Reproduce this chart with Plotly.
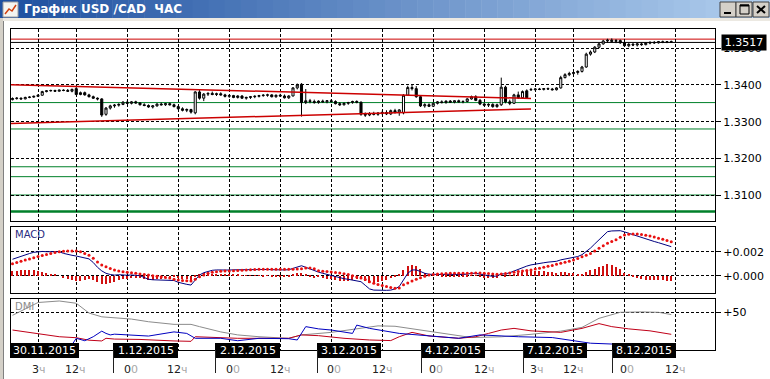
import plotly.graph_objects as go

W, H = 770, 379


def PX(x):
    return x / W


def PY(y):
    return 1 - y / H


# ---------------- DATA ----------------
PRICE_BASE = 1.3
PIP = 0.0001

OPEN_PIPS = [
    360, 363, 364, 362, 366, 367, 369, 372, 382, 384,
    385, 383, 386, 385, 383, 390, 374, 379, 373, 368,
    364, 362, 320, 337, 343, 345, 347, 353, 350, 354,
    351, 346, 344, 340, 343, 348, 346, 349, 346, 341,
    335, 331, 333, 324, 381, 364, 375, 377, 374, 376,
    373, 369, 371, 366, 370, 364, 366, 368, 369, 371,
    372, 373, 368, 372, 370, 365, 370, 392, 402, 352,
    357, 355, 352, 356, 354, 357, 355, 349, 346, 350,
    352, 355, 353, 320, 318, 322, 320, 323, 325, 321,
    330, 326, 324, 372, 393, 390, 368, 343, 346, 342,
    350, 354, 352, 356, 353, 357, 354, 355, 362, 368,
    358, 348, 345, 347, 341, 346, 394, 354, 350, 373,
    365, 384, 388, 387, 389, 388, 390, 389, 387, 392,
    420, 428, 431, 434, 437, 449, 484, 490, 503, 512,
    520, 522, 519, 521, 515, 507, 511, 509, 512, 510,
    514, 516, 515, 518, 516, 518,
]
HIGH_PIPS = [
    366, 367, 366, 368, 369, 371, 374, 384, 386, 387,
    387, 387, 388, 389, 390, 395, 382, 382, 376, 371,
    366, 364, 340, 346, 348, 350, 356, 357, 356, 357,
    353, 350, 347, 345, 350, 352, 351, 352, 349, 344,
    339, 336, 335, 383, 386, 378, 380, 382, 379, 380,
    376, 374, 373, 372, 372, 368, 370, 372, 373, 375,
    376, 375, 374, 376, 374, 372, 394, 404, 405, 389,
    362, 360, 358, 360, 359, 361, 358, 353, 352, 354,
    357, 358, 355, 325, 326, 327, 326, 330, 331, 333,
    335, 334, 375, 398, 400, 397, 370, 350, 350, 352,
    356, 358, 358, 359, 358, 360, 358, 364, 371, 372,
    362, 352, 350, 350, 349, 420, 398, 360, 376, 382,
    385, 388, 392, 391, 392, 391, 393, 392, 394, 425,
    432, 436, 438, 440, 452, 488, 494, 506, 515, 523,
    526, 527, 525, 524, 519, 514, 515, 514, 516, 516,
    519, 520, 520, 521, 520, 521,
]
LOW_PIPS = [
    358, 360, 360, 361, 364, 365, 367, 371, 380, 382,
    382, 382, 383, 381, 380, 372, 372, 371, 366, 362,
    358, 313, 316, 333, 338, 341, 345, 348, 347, 349,
    344, 342, 338, 336, 341, 344, 343, 344, 339, 333,
    328, 326, 322, 320, 360, 356, 370, 372, 370, 371,
    366, 365, 364, 363, 362, 360, 362, 364, 366, 368,
    368, 366, 365, 368, 363, 362, 369, 388, 314, 348,
    350, 349, 349, 352, 350, 352, 347, 343, 344, 346,
    349, 350, 316, 313, 315, 317, 316, 318, 318, 318,
    322, 316, 320, 370, 385, 365, 340, 338, 340, 340,
    347, 350, 349, 351, 350, 352, 350, 353, 360, 356,
    345, 342, 340, 338, 338, 343, 350, 345, 348, 362,
    363, 362, 384, 385, 386, 385, 387, 385, 385, 390,
    418, 424, 426, 428, 434, 447, 480, 487, 500, 510,
    515, 516, 514, 512, 504, 503, 506, 505, 507, 508,
    511, 512, 513, 514, 514, 515,
]
CLOSE_PIPS = [
    363, 364, 362, 366, 367, 369, 372, 382, 384, 385,
    383, 386, 385, 383, 388, 374, 379, 373, 368, 364,
    362, 318, 337, 343, 345, 347, 353, 350, 354, 351,
    346, 344, 340, 343, 348, 346, 349, 346, 341, 335,
    331, 333, 326, 381, 364, 375, 377, 374, 376, 373,
    369, 371, 366, 370, 364, 366, 368, 369, 371, 372,
    373, 368, 372, 370, 365, 370, 392, 400, 352, 357,
    355, 352, 356, 354, 357, 355, 349, 346, 350, 352,
    355, 353, 320, 318, 322, 320, 323, 325, 321, 330,
    326, 332, 372, 393, 390, 368, 343, 346, 342, 350,
    354, 352, 356, 353, 357, 354, 355, 362, 368, 358,
    348, 345, 347, 341, 346, 394, 354, 350, 373, 365,
    382, 365, 387, 389, 388, 390, 389, 387, 392, 420,
    428, 431, 434, 437, 449, 484, 490, 503, 512, 520,
    522, 519, 521, 515, 507, 511, 509, 512, 510, 514,
    516, 515, 518, 516, 518, 517,
]

# horizontal levels on the price chart
GREEN_LEVELS = [1.3352, 1.3280, 1.3177, 1.3150, 1.3100]
GREEN_LEVEL_THICK = 1.3055
RED_LEVEL = 1.3525
LAST_PRICE = 1.3516
LAST_PRICE_LABEL = "1.3517"

# converging red trend lines (bar index, price)
TREND_BARS = [-0.35, 122]
UPPER_TREND = [1.34008, 1.33632]
LOWER_TREND = [1.32951, 1.33346]

PRICE_TICKS = [1.31, 1.32, 1.33, 1.34, 1.35]
PRICE_TICK_TEXT = ["1.3100", "1.3200", "1.3300", "1.3400", "1.3500"]

# MACD in units of 0.0001
MACD_E4 = [
    13.7, 15, 16.5, 17.5, 18.5, 19.5, 20, 20.2, 20, 20.1,
    20, 20, 18.6, 17.5, 17, 16.4, 15.5, 14.8, 14, 11,
    7, 4, 2, 1, 0.5, 0.8, 0.5, 0.4, 0.6, 0.3,
    0, -1.5, -3, -3.4, -3.6, -3.5, -3.6, -3.8, -4, -5.5,
    -6.5, -7.2, -7.8, -4, 0.6, 2.5, 3.8, 4.5, 4.8, 4.6,
    4.5, 4.7, 4.9, 5, 4.8, 4.6, 4.8, 5, 5.1, 5,
    5.2, 5, 4.8, 4.9, 4.8, 5, 6, 7.5, 8.3, 7,
    5.5, 4, 3, 2, 1, 0, -1, -2, -2.5, -3,
    -3.5, -4, -5, -8, -11, -12, -12.2, -12.3, -12.2, -12,
    -11, -9, -3, 2, 4.8, 4.8, 3.5, 2, 1.2, 1,
    1.2, 1, 1.1, 1, 1.2, 1.1, 1, 1.3, 2, 2,
    1.2, 0.5, 0, -0.5, -0.3, 1.5, 1.5, 2.5, 4, 5.5,
    7, 8, 9, 9.8, 10.3, 10.8, 11.3, 11.6, 12, 13.2,
    14, 14.5, 15, 16, 17.5, 20, 23, 26.5, 30, 33.5,
    36.7, 37.3, 37.5, 37.5, 36.5, 35.3, 34, 32.8, 31.5, 30.3,
    29.3, 28.5, 27.5, 26.5, 25.3, 24.2,
]
SIGNAL_E4 = [
    10, 11, 12, 13, 14, 15, 16, 16.8, 17.6, 18.5,
    19.3, 20, 20.4, 20.6, 20.6, 20.5, 20, 18.5, 17, 14.5,
    11.5, 9, 7.5, 6, 4.8, 4, 3.3, 2.8, 2.4, 2,
    1.5, 1, 0.5, 0, -0.5, -0.8, -1.4, -2, -3, -3.5,
    -4, -4.2, -4.4, -3, -0.8, 0.5, 2, 2.8, 3.3, 3.7,
    3.9, 4, 4.2, 4.4, 4.6, 4.8, 5, 5.1, 5.3, 5.3,
    5.3, 5.3, 5.3, 5.3, 5.3, 5.3, 5.4, 5.5, 5.8, 6.4,
    6.5, 5.8, 4.2, 3.8, 3.4, 3, 2.6, 2.2, 1.7, 1,
    0, -1, -2, -3.2, -5, -6.3, -7.3, -8.2, -9, -9.8,
    -10.5, -10.2, -7.5, -6, -4.5, -3, -1.8, -0.5, 0.6, 1,
    1.4, 1.6, 1.8, 2, 2, 2, 2, 2, 2.1, 2.2,
    2.2, 2, 1.8, 1.5, 1.3, 1.5, 1.8, 2.2, 2.8, 3.5,
    4, 4.4, 4.8, 5.5, 6.3, 7, 7.8, 8.6, 9.5, 10.3,
    11.2, 12, 13, 14.3, 15.8, 17, 18.6, 20.5, 22.8, 25,
    27, 28.6, 30, 32, 34, 34.5, 34.8, 34.8, 34.3, 33.8,
    33, 32.2, 31.3, 30.4, 29.4, 28.3,
]
HIST_E4 = [
    3.7, 4, 4.5, 4.5, 4.5, 4.5, 4, 3.4, 2.4, 1.6,
    0.7, 0, -1.8, -3.1, -3.6, -4.1, -4.5, -3.7, -3, -3.5,
    -5.5, -6.5, -7, -6, -5, -3.2, -2.8, -2.4, -1.8, -1.7,
    -1.5, -2.5, -3.5, -3.4, -3.1, -2.7, -2.2, -1.8, -1, -2,
    -2.5, -3, -3.4, -1, 1.4, 2, 1.8, 1.7, 1.5, 0.9,
    0.6, 0.7, 0.7, 0.6, 0.2, -0.2, -0.2, -0.1, -0.2, -0.3,
    -0.1, -0.3, -0.5, -0.4, -0.5, -0.3, 0.6, 2, 2.5, 0.6,
    -1, -1.8, -1.2, -1.8, -2.4, -3, -3.6, -4.2, -4.2, -4,
    -3.5, -3, -3, -4.8, -6, -5.7, -4.9, -4.1, -3.2, -2.2,
    -0.5, 1.2, 4.5, 8, 9.3, 7.8, 5.3, 2.5, 0.6, 0,
    -0.2, -0.6, -0.7, -1, -0.8, -0.9, -1, -0.7, -0.1, -0.2,
    -1, -1.5, -1.8, -2, -1.6, 0, -0.3, 0.3, 1.2, 2,
    3, 3.6, 4.2, 4.3, 4, 3.8, 3.5, 3, 2.5, 2.9,
    2.8, 2.5, 2, 1.7, 1.7, 3, 4.4, 6, 7.2, 8.5,
    9.7, 8.7, 7.5, 5.5, 2.5, 0.8, -0.8, -2, -2.8, -3.5,
    -3.7, -3.7, -3.8, -3.9, -4.1, -4.1,
]
MACD_TICKS = [0, 0.002]
MACD_TICK_TEXT = ["+0.000", "+0.002"]

# DMI lines, read at these bar indices
ADX_BARS = [0, 6, 11, 15, 18, 21, 28, 32, 38, 42, 44, 49, 53, 58, 65, 68, 75, 82,
            86, 90, 96, 103, 108, 115, 119, 122, 129, 134, 138, 143, 148, 152, 155]
ADX_VALS = [46, 63, 65, 62, 49, 44, 41, 37.5, 34, 34, 31, 24, 20, 17.6, 15.5, 20,
            23.4, 28.7, 32, 31.5, 26.5, 20, 16.5, 17.5, 19, 20.8, 25, 30, 42, 50,
            50.5, 50, 47]
PDI_BARS = [0, 6, 11, 15, 18, 21, 22, 24, 30, 38, 42, 43, 49, 53, 58, 65, 68, 72,
            78, 84, 89, 91, 94, 98, 105, 109, 112, 115, 118, 122, 129, 134, 138,
            141, 145, 150, 155]
PDI_VALS = [26.5, 22, 17.6, 16.3, 13, 12, 15.5, 14.5, 14, 12, 11.5, 17.6, 16.3,
            15.5, 15.5, 15.5, 20, 19, 15.5, 13.3, 12.5, 17.6, 23.4, 18.6, 15.5,
            17.6, 22, 26.5, 28.7, 25.4, 23.4, 28.7, 35, 31, 28, 25.4, 20.8]
MDI_BARS = [0, 14, 15, 17, 19, 21, 22, 23, 24, 32, 38, 41, 43, 49, 53, 58, 65, 67,
            69, 72, 75, 78, 80, 81, 84, 91, 98, 105, 110, 115, 119, 127, 131, 136,
            143, 155]
MDI_VALS = [7, 7, 15.5, 12.3, 17.6, 25, 22, 20, 21, 18.5, 24, 22, 15.5, 15.5,
            12.3, 15.5, 15, 13.3, 31, 28, 26.5, 24, 22, 33, 28.7, 22, 18.6, 15.5,
            20, 18.6, 17.6, 16.5, 13.3, 9, 7.5, 7.5]
DMI_TICKS = [50]
DMI_TICK_TEXT = ["+50"]

# vertical time grid (bar index)
GRID_BARS = [6, 15, 27, 39, 51, 63, 75, 87, 99, 111, 123, 132, 144, 156]

# time axis labels
DATE_LABELS = ["30.11.2015", "1.12.2015", "2.12.2015", "3.12.2015",
               "4.12.2015", "7.12.2015", "8.12.2015"]
HOUR_LABELS = [("3", "ч"), ("12", "ч"), ("0", "0"), ("12", "ч"), ("0", "0"), ("12", "ч"),
               ("0", "0"), ("12", "ч"), ("0", "0"), ("12", "ч"), ("3", "ч"), ("12", "ч"),
               ("0", "0"), ("12", "ч")]

TITLE = "График USD /CAD  ЧАС"

# ---------------- LAYOUT GEOMETRY (pixels) ----------------
X_LEFT, X_RIGHT = 11, 715
MAIN_TOP, MAIN_BOT = 29, 221
MACD_TOP, MACD_BOT = 227, 293
DMI_TOP, DMI_BOT = 299, 350
BAR0_PX, BAR_STEP = 12.5, 4.25
X_RANGE = [(X_LEFT - BAR0_PX) / BAR_STEP, (X_RIGHT - BAR0_PX) / BAR_STEP]

DATE_BOXES = [(10, 79), (113, 178), (215, 280), (317, 381), (421, 485), (523, 587), (612, 676)]
HOUR_POS = [30, 63, 122, 165, 224, 268, 325, 370, 427, 472, 528, 561, 618, 663]

# ---------------- FIGURE ----------------
bars = list(range(len(CLOSE_PIPS)))
o = [PRICE_BASE + v * PIP for v in OPEN_PIPS]
h = [PRICE_BASE + v * PIP for v in HIGH_PIPS]
lo = [PRICE_BASE + v * PIP for v in LOW_PIPS]
c = [PRICE_BASE + v * PIP for v in CLOSE_PIPS]
macd = [v * 1e-4 for v in MACD_E4]
sig = [v * 1e-4 for v in SIGNAL_E4]
hist = [v * 1e-4 for v in HIST_E4]

fig = go.Figure()

RED = "#cc0000"

for yv, p in zip([UPPER_TREND, LOWER_TREND], [0, 1]):
    fig.add_trace(go.Scatter(x=TREND_BARS, y=yv, mode="lines", line=dict(color=RED, width=1.5),
                             xaxis="x", yaxis="y", showlegend=False, hoverinfo="skip"))

fig.add_trace(go.Candlestick(
    x=bars, open=o, high=h, low=lo, close=c, xaxis="x", yaxis="y",
    increasing=dict(line=dict(color="#000000", width=1), fillcolor="#ffffff"),
    decreasing=dict(line=dict(color="#000000", width=1), fillcolor="#000000"),
    whiskerwidth=0, showlegend=False, hoverinfo="skip"))

fig.add_trace(go.Bar(x=bars, y=hist, width=0.24, marker=dict(color="#d01010", line=dict(width=0)),
                     xaxis="x2", yaxis="y2", showlegend=False, hoverinfo="skip"))
fig.add_trace(go.Scatter(x=bars, y=macd, mode="lines", line=dict(color="#000080", width=1),
                         xaxis="x2", yaxis="y2", showlegend=False, hoverinfo="skip"))
fig.add_trace(go.Scatter(x=bars, y=sig, mode="markers",
                         marker=dict(color="#e81010", size=3, line=dict(width=0)),
                         xaxis="x2", yaxis="y2", showlegend=False, hoverinfo="skip"))

fig.add_trace(go.Scatter(x=ADX_BARS, y=ADX_VALS, mode="lines", line=dict(color="#8c8c8c", width=1),
                         xaxis="x3", yaxis="y3", showlegend=False, hoverinfo="skip"))
fig.add_trace(go.Scatter(x=PDI_BARS, y=PDI_VALS, mode="lines", line=dict(color="#c00018", width=1),
                         xaxis="x3", yaxis="y3", showlegend=False, hoverinfo="skip"))
fig.add_trace(go.Scatter(x=MDI_BARS, y=MDI_VALS, mode="lines", line=dict(color="#0000c0", width=1),
                         xaxis="x3", yaxis="y3", showlegend=False, hoverinfo="skip"))

DASH = "3px,2px"
common_x = dict(range=X_RANGE, domain=[PX(X_LEFT), PX(X_RIGHT)], showticklabels=False, ticks="",
                tickvals=GRID_BARS, showgrid=True, gridcolor="#000000", gridwidth=1, griddash=DASH,
                showline=True, linecolor="#000000", linewidth=1, mirror=True, zeroline=False)
common_y = dict(side="right", ticks="outside", ticklen=5, tickcolor="#000000", tickwidth=1,
                showgrid=True, gridcolor="#000000", gridwidth=1, griddash=DASH,
                showline=True, linecolor="#000000", linewidth=1, mirror=True, zeroline=False,
                tickfont=dict(family="DejaVu Sans", size=11, color="#000000"))


def yr(top_px, bot_px, v_top_px, v_top, v_bot_px, v_bot):
    per = (v_top - v_bot) / (v_bot_px - v_top_px)
    return [v_bot - (bot_px - v_bot_px) * per, v_top + (v_top_px - top_px) * per]


main_range = yr(MAIN_TOP, MAIN_BOT, 48.3, 1.35, 195.0, 1.31)
macd_range = yr(MACD_TOP, MACD_BOT, 251.7, 0.002, 275.7, 0.0)
dmi_range = yr(DMI_TOP, DMI_BOT, 312.3, 50, 350.0, 0)

fig.update_layout(
    width=W, height=H, margin=dict(l=0, r=0, t=0, b=0),
    paper_bgcolor="#ffffff", plot_bgcolor="#ffffff", showlegend=False, bargap=0,
    xaxis=dict(**common_x, anchor="y", rangeslider=dict(visible=False)),
    xaxis2=dict(**common_x, anchor="y2"),
    xaxis3=dict(**common_x, anchor="y3"),
    yaxis=dict(**common_y, anchor="x", domain=[PY(MAIN_BOT), PY(MAIN_TOP)], range=main_range,
               tickvals=PRICE_TICKS, ticktext=PRICE_TICK_TEXT),
    yaxis2=dict(**common_y, anchor="x2", domain=[PY(MACD_BOT), PY(MACD_TOP)], range=macd_range,
                tickvals=MACD_TICKS, ticktext=MACD_TICK_TEXT),
    yaxis3=dict(**common_y, anchor="x3", domain=[PY(DMI_BOT), PY(DMI_TOP)], range=dmi_range,
                tickvals=DMI_TICKS, ticktext=DMI_TICK_TEXT),
)

shapes = []
# horizontal levels
for lv in GREEN_LEVELS:
    shapes.append(dict(type="line", xref="x domain", yref="y", x0=0, x1=1, y0=lv, y1=lv,
                       line=dict(color="#00802a", width=1), layer="below"))
shapes.append(dict(type="line", xref="x domain", yref="y", x0=0, x1=1, y0=GREEN_LEVEL_THICK,
                   y1=GREEN_LEVEL_THICK, line=dict(color="#00802a", width=2.5), layer="below"))
shapes.append(dict(type="line", xref="x domain", yref="y", x0=0, x1=1, y0=RED_LEVEL, y1=RED_LEVEL,
                   line=dict(color=RED, width=1), layer="below"))
shapes.append(dict(type="line", xref="x domain", yref="y", x0=0, x1=1, y0=LAST_PRICE, y1=LAST_PRICE,
                   line=dict(color="#000000", width=1), layer="below"))


def rgb_mix(a, b, t):
    return "rgb(%d,%d,%d)" % tuple(round(a[k] + (b[k] - a[k]) * t) for k in range(3))


# window chrome: title bar gradient
N = 48
cl, cr = (30, 80, 160), (176, 206, 238)
for k in range(N):
    x0 = W * k / N
    x1 = W * (k + 1) / N + 0.5
    shapes.append(dict(type="rect", xref="paper", yref="paper", x0=PX(x0), x1=PX(x1),
                       y0=PY(18), y1=PY(0), line=dict(width=0),
                       fillcolor=rgb_mix(cl, cr, k / (N - 1)), layer="above"))
shapes.append(dict(type="rect", xref="paper", yref="paper", x0=0, x1=1, y0=PY(21), y1=PY(18),
                   line=dict(width=0), fillcolor="#ece9e2", layer="above"))
# left border
shapes.append(dict(type="rect", xref="paper", yref="paper", x0=0, x1=PX(3), y0=0, y1=PY(18),
                   line=dict(width=0), fillcolor="#d4d0c8", layer="above"))
shapes.append(dict(type="line", xref="paper", yref="paper", x0=PX(3.5), x1=PX(3.5), y0=0, y1=PY(21),
                   line=dict(color="#808080", width=1), layer="above"))
# icon
shapes.append(dict(type="rect", xref="paper", yref="paper", x0=PX(3), x1=PX(18), y0=PY(17), y1=PY(2),
                   line=dict(color="#a0a0a0", width=1), fillcolor="#f4f4f0", layer="above"))
shapes.append(dict(type="path", xref="paper", yref="paper", layer="above",
                   path="M %f %f L %f %f L %f %f L %f %f" % (PX(5), PY(14), PX(9), PY(9), PX(12), PY(11), PX(16), PY(5)),
                   line=dict(color="#d04010", width=1.5)))
# buttons
for bx in [720, 736, 753]:
    shapes.append(dict(type="rect", xref="paper", yref="paper", x0=PX(bx), x1=PX(bx + 16),
                       y0=PY(17), y1=PY(2), line=dict(color="#404040", width=1),
                       fillcolor="#d4d0c8", layer="above"))
shapes.append(dict(type="rect", xref="paper", yref="paper", x0=PX(724), x1=PX(731), y0=PY(14), y1=PY(12),
                   line=dict(width=0), fillcolor="#000000", layer="above"))
shapes.append(dict(type="rect", xref="paper", yref="paper", x0=PX(740), x1=PX(749), y0=PY(14), y1=PY(5),
                   line=dict(color="#000000", width=1), fillcolor="rgba(0,0,0,0)", layer="above"))
shapes.append(dict(type="line", xref="paper", yref="paper", x0=PX(740), x1=PX(749), y0=PY(5.5), y1=PY(5.5),
                   line=dict(color="#000000", width=2), layer="above"))
shapes.append(dict(type="line", xref="paper", yref="paper", x0=PX(757), x1=PX(765), y0=PY(6), y1=PY(13),
                   line=dict(color="#000000", width=2), layer="above"))
shapes.append(dict(type="line", xref="paper", yref="paper", x0=PX(757), x1=PX(765), y0=PY(13), y1=PY(6),
                   line=dict(color="#000000", width=2), layer="above"))

# date boxes and separators
for k, (bx0, bx1) in enumerate(DATE_BOXES):
    shapes.append(dict(type="rect", xref="paper", yref="paper", x0=PX(bx0), x1=PX(bx1),
                       y0=PY(358), y1=PY(343), line=dict(width=0), fillcolor="#000000", layer="above"))
    if k > 0:
        shapes.append(dict(type="line", xref="paper", yref="paper", x0=PX(bx0 + 0.5), x1=PX(bx0 + 0.5),
                           y0=PY(373), y1=PY(350), line=dict(color="#202020", width=1), layer="above"))

fig.update_layout(shapes=shapes)

ann = []
ann.append(dict(xref="paper", yref="paper", x=PX(22), y=PY(9.5), xanchor="left", yanchor="middle",
                text="<b>" + TITLE + "</b>", showarrow=False,
                font=dict(family="DejaVu Sans", size=12, color="#ffffff")))
for k, (bx0, bx1) in enumerate(DATE_BOXES):
    ann.append(dict(xref="paper", yref="paper", x=PX((bx0 + bx1) / 2), y=PY(350.5), xanchor="center",
                    yanchor="middle", text=DATE_LABELS[k], showarrow=False,
                    font=dict(family="DejaVu Sans", size=11, color="#ffffff")))
for (a, b), hx in zip(HOUR_LABELS, HOUR_POS):
    ann.append(dict(xref="paper", yref="paper", x=PX(hx), y=PY(369), xanchor="left", yanchor="middle",
                    text="%s<span style='color:#a8a8a8'>%s</span>" % (a, b), showarrow=False,
                    font=dict(family="DejaVu Sans", size=11, color="#202020")))
ann.append(dict(xref="paper", yref="paper", x=PX(13), y=PY(234), xanchor="left", yanchor="middle",
                text="MACD", showarrow=False, font=dict(family="DejaVu Sans", size=10, color="#2a2a80")))
ann.append(dict(xref="paper", yref="paper", x=PX(13), y=PY(306), xanchor="left", yanchor="middle",
                text="DMI", showarrow=False, font=dict(family="DejaVu Sans", size=10, color="#8c8c8c")))
ann.append(dict(xref="paper", yref="y", x=PX(744), y=LAST_PRICE, xanchor="center", yanchor="middle",
                text=LAST_PRICE_LABEL, showarrow=False, bgcolor="#000000", width=42, height=13,
                font=dict(family="DejaVu Sans", size=11, color="#ffffff")))
fig.update_layout(annotations=ann)

fig.write_html("out.html")
